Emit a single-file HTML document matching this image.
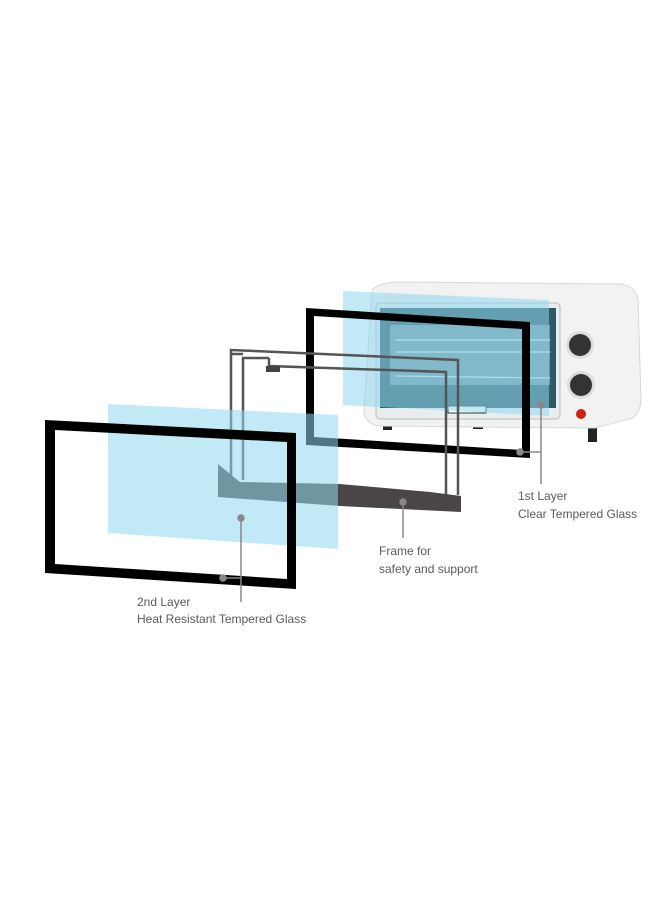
<!DOCTYPE html>
<html><head><meta charset="utf-8"><style>
html,body{margin:0;padding:0;background:#fff;}
svg{display:block}
text{font-family:"Liberation Sans",sans-serif;font-size:12px;fill:#5a5a5a;}
</style></head><body>
<svg width="660" height="900" viewBox="0 0 660 900" xmlns="http://www.w3.org/2000/svg">
<!-- oven -->
<rect x="383" y="418" width="9" height="12" fill="#222"/>
<rect x="588" y="428" width="9" height="14" fill="#222"/>
<rect x="618" y="408" width="8" height="12" fill="#222"/>
<rect x="473" y="424" width="10" height="5" fill="#222"/>
<path d="M372 290 Q380 282 400 282 L620 284 Q636 286 638 300 L641 400 Q640 418 625 420 L595 428 L380 426 Q364 424 364 410 Z" fill="#f2f2f2" stroke="#d8d8d8"/>
<rect x="376" y="303" width="184" height="116" rx="4" fill="#e8eef0" stroke="#bbb"/>
<rect x="380" y="308" width="176" height="100" fill="#2f5a66"/>
<rect x="390" y="325" width="160" height="60" fill="#6f93a0"/>
<g stroke="#cfe3ea" stroke-width="1.2">
<line x1="395" y1="340" x2="550" y2="340"/><line x1="395" y1="352" x2="550" y2="352"/>
<line x1="395" y1="376" x2="550" y2="378"/>
</g>
<rect x="448" y="406" width="38" height="7" fill="#fff" stroke="#333" stroke-width="1"/>
<circle cx="580" cy="345" r="14" fill="#ddd"/><circle cx="580" cy="345" r="11" fill="#333"/>
<circle cx="581" cy="385" r="14" fill="#ddd"/><circle cx="581" cy="385" r="11" fill="#333"/>
<circle cx="581" cy="414" r="5" fill="#c21"/>
<!-- back blue glass -->
<polygon points="343,291 549,300 549,416 343,405" fill="#8fd8ee" fill-opacity="0.55"/>
<!-- back black frame -->
<path d="M306 308 L530 322 L530 458 L306 445 Z M314 316 L522 329 L522 450 L314 437 Z" fill="#000" fill-rule="evenodd"/>
<!-- support frame -->
<g stroke="#555" stroke-width="2.5" fill="none">
<polyline points="231,480 231,350 458,360 458,495"/>
<polyline points="243,480 243,358 269,358"/>
<polyline points="269,358 269,366 446,372 446,495"/>
<line x1="231" y1="354" x2="243" y2="354"/>
</g>
<polygon points="266,366 280,366 280,372 266,372" fill="#444"/>
<polygon points="218,464 230,474 240,482 340,484 430,492 461,496 461,512 340,506 218,497" fill="#4a4645"/>
<!-- front blue glass -->
<polygon points="108,404 338,415 338,549 108,533" fill="#8fd8ee" fill-opacity="0.55"/>
<!-- front black frame -->
<path d="M45 420 L296 433 L296 589 L45 573 Z M55 430 L287 442 L287 579 L55 564 Z" fill="#000" fill-rule="evenodd"/>
<!-- callouts -->
<g stroke="#888" stroke-width="1.5" fill="#888">
<line x1="541" y1="405" x2="541" y2="484"/><line x1="520" y1="452" x2="541" y2="452"/>
<circle cx="541" cy="405" r="3"/><circle cx="520" cy="452" r="3"/>
<line x1="403" y1="502" x2="403" y2="538"/><circle cx="403" cy="502" r="3"/>
<line x1="241" y1="518" x2="241" y2="602"/><line x1="223" y1="578" x2="241" y2="578"/>
<circle cx="241" cy="518" r="3"/><circle cx="223" cy="578" r="3"/>
</g>
<text x="518" y="500">1st Layer</text>
<text x="518" y="518">Clear Tempered Glass</text>
<text x="379" y="555">Frame for</text>
<text x="379" y="573">safety and support</text>
<text x="137" y="606">2nd Layer</text>
<text x="137" y="623">Heat Resistant Tempered Glass</text>
</svg>
</body></html>
